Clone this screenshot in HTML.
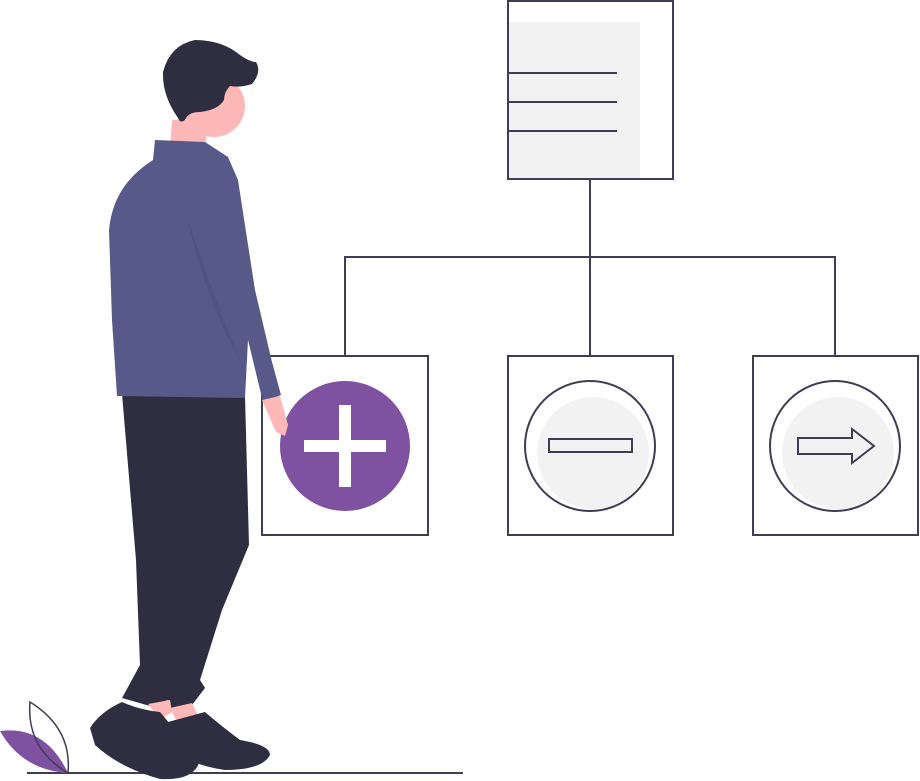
<!DOCTYPE html>
<html><head><style>html,body{margin:0;padding:0;background:#fff}svg{display:block}</style></head>
<body>
<svg width="920" height="781" viewBox="0 0 920 781" xmlns="http://www.w3.org/2000/svg">
<g fill="none" stroke="#3f3d56" stroke-width="2">
<rect x="508" y="1" width="165" height="178" fill="#fff"/>
</g>
<rect x="509" y="22" width="131" height="156" fill="#f2f2f2"/>
<g fill="none" stroke="#3f3d56" stroke-width="2">
<line x1="508" y1="73" x2="617" y2="73"/>
<line x1="508" y1="102" x2="617" y2="102"/>
<line x1="508" y1="131" x2="617" y2="131"/>
<polyline points="590,179 590,257"/>
<polyline points="345,356 345,257 835,257 835,356"/>
<line x1="590" y1="257" x2="590" y2="356"/>
<rect x="262" y="356" width="166" height="179"/>
<rect x="508" y="356" width="165" height="179"/>
<rect x="753" y="356" width="165" height="179"/>
</g>
<circle cx="345" cy="446" r="65" fill="#7e52a0"/>
<rect x="304" y="440" width="82" height="12" fill="#fff"/>
<rect x="339" y="405" width="12" height="82" fill="#fff"/>
<circle cx="593" cy="453" r="56" fill="#f2f2f2"/>
<circle cx="590" cy="446" r="65" fill="none" stroke="#3f3d56" stroke-width="2"/>
<rect x="549" y="439" width="83" height="13" fill="none" stroke="#3f3d56" stroke-width="2"/>
<circle cx="838" cy="453" r="56" fill="#f2f2f2"/>
<circle cx="835" cy="446" r="65" fill="none" stroke="#3f3d56" stroke-width="2"/>
<polygon points="798,438 852,438 852,429 874,446 852,463 852,454 798,454" fill="none" stroke="#3f3d56" stroke-width="2"/>
<line x1="27" y1="773" x2="463" y2="773" stroke="#3f3d56" stroke-width="2"/>
<path d="M0,731 Q45,725 68,773 Q22,770 0,731Z" fill="#7e52a0"/>
<path d="M30,702 Q72,728 68,773 Q26,748 30,702Z" fill="none" stroke="#3f3d56" stroke-width="1.5"/>
<!-- person -->
<path d="M172,120 L208,120 L205,150 L170,150Z" fill="#ffb8b8"/>
<circle cx="214" cy="106" r="31" fill="#ffb8b8"/>
<path d="M178,118 Q162,95 163,72 Q170,45 195,40 Q222,40 240,55 Q250,62 256,62 Q262,72 252,84 Q240,88 230,86 Q224,92 224,100 Q218,110 200,112 Q188,112 185,120 Q180,124 178,118Z" fill="#2f2e41"/>
<path d="M122,394 L245,396 L249,545 L222,610 L200,680 L205,688 L192,705 L172,712 L168,700 L150,706 L122,698 L140,665 L136,560Z" fill="#2f2e41"/>
<path d="M148,704 L170,700 L172,712 L160,720 Z" fill="#ffb8b8"/>
<path d="M170,708 L192,703 L200,720 L180,728Z" fill="#ffb8b8"/>
<path d="M90,728 Q100,712 122,702 Q140,710 160,712 L200,760 Q195,781 160,779 Q120,768 95,745Z" fill="#2f2e41"/>
<path d="M168,722 L205,712 Q220,725 240,740 Q270,745 270,755 Q262,770 225,770 Q190,765 175,750Z" fill="#2f2e41"/>
<path d="M155,140 L205,142 L228,157 L238,180 L255,290 L272,362 L281,395 L263,402 L248,340 L245,398 L117,396 L112,320 L109,230 Q113,185 153,160Z" fill="#575a89"/>
<path d="M262,400 L280,396 L288,425 L285,436 L276,432Z" fill="#ffb8b8"/>
<path d="M188,220 Q205,300 240,360 Q215,300 188,220Z" fill="#4d4f7c" opacity="0.6"/>
</svg>
</body></html>
